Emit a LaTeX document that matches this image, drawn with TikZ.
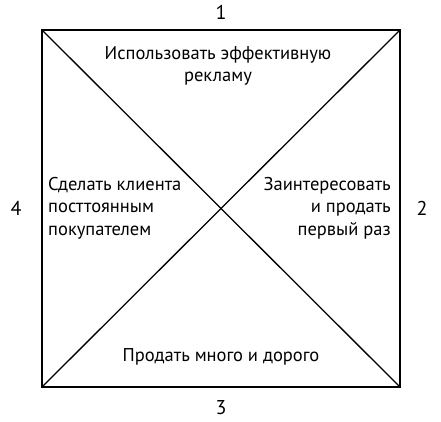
\documentclass[tikz,border=0pt]{standalone}
\usepackage{fontspec}
\setmainfont{PT Sans}
\begin{document}
\begin{tikzpicture}[x=1pt,y=-1pt,
  lbl/.style={inner sep=0pt,font=\fontsize{18.5}{22.5}\selectfont,align=center},
  num/.style={inner sep=0pt,font=\fontsize{20}{22}\selectfont}]
\useasboundingbox (0,0) rectangle (441,422);
\coordinate (tl) at (42,30);
\coordinate (tr) at (400,30);
\coordinate (br) at (400,387);
\coordinate (bl) at (42,387);
\draw[line width=1.8pt] (tl) -- (tr) -- (br) -- (bl) -- cycle;
\draw[line width=1.3pt] (tl) -- (br);
\draw[line width=1.3pt] (tr) -- (bl);
\node[lbl] (t) at (218,66) {Использовать эффективную\\рекламу};
\node[lbl,anchor=west,align=left] (l) at (48,208) {Сделать клиента\\посттоянным\\покупателем};
\node[lbl,anchor=east,align=right] (r) at (391,208) {Заинтересовать\\и продать\\первый раз};
\node[lbl] (b) at (221,357) {Продать много и дорого};
\node[num] (n1) at (221,12) {1};
\node[num] (n2) at (422,208) {2};
\node[num] (n3) at (221,408) {3};
\node[num] (n4) at (16,208) {4};
\end{tikzpicture}
\end{document}
